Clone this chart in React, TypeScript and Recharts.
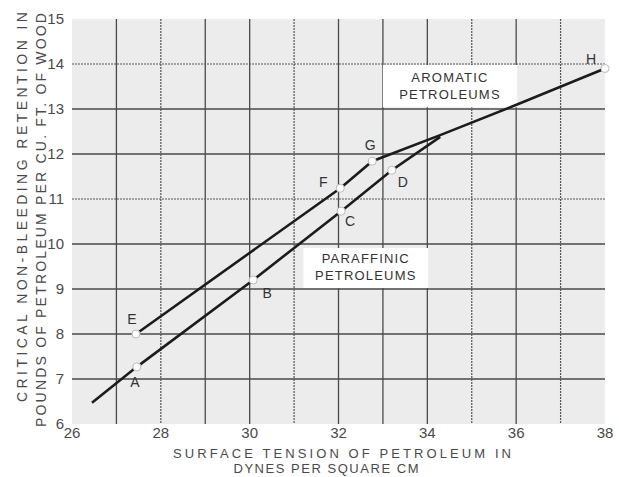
import React from "react";
import {
  LineChart,
  Line,
  XAxis,
  YAxis,
  CartesianGrid,
  ReferenceArea,
} from "recharts";

// surface tension (dynes/cm) vs critical retention (lb/cu ft)
const paraffinicX = [26.45, 27.46, 30.08, 32.06, 33.2, 34.29];
const paraffinicY = [6.47, 7.27, 9.2, 10.73, 11.64, 12.38];
const paraffinicPts = ["", "A", "B", "C", "D", ""];

const aromaticX = [27.44, 32.04, 32.76, 34.29, 36.02, 38.0];
const aromaticY = [8.0, 11.24, 11.84, 12.42, 13.1, 13.9];
const aromaticPts = ["E", "F", "G", "", "", "H"];

const xTicks = [26, 28, 30, 32, 34, 36, 38];
const yTicks = [6, 7, 8, 9, 10, 11, 12, 13, 14, 15];
// solid and dotted rulings of the graph paper
const xGridSolid = [27, 29, 30, 32, 33, 34, 36];
const xGridDotted = [28, 31, 35, 37];
const yGridSolid = [7, 8, 9, 10, 12, 13];
const yGridDotted = [11, 14];

const FONT = "'Liberation Sans', Arial, sans-serif";
const INK = "#1c1c1c";
const TEXT = "#4a4a4a";

// where each point letter sits, relative to its marker
const letterOffset: Record<string, [number, number]> = {
  A: [-2, 15],
  B: [14, 13],
  C: [9, 10],
  D: [11, 12],
  E: [-4, -15],
  F: [-17, -6],
  G: [-2, -16],
  H: [-14, -10],
};

const paraffinic = paraffinicX.map((x, i) => ({
  x,
  y: paraffinicY[i],
  pt: paraffinicPts[i],
}));
const aromatic = aromaticX.map((x, i) => ({
  x,
  y: aromaticY[i],
  pt: aromaticPts[i],
}));

const PointDot = (props: any) => {
  const { cx, cy, payload } = props;
  if (!payload.pt) return <g key={props.key} />;
  const [dx, dy] = letterOffset[payload.pt] || [0, 0];
  return (
    <g key={props.key}>
      <circle cx={cx} cy={cy} r={4} fill="#fff" stroke="#bbb" strokeWidth={1} />
      <text
        x={cx + dx}
        y={cy + dy}
        textAnchor="middle"
        dominantBaseline="central"
        fontFamily={FONT}
        fontSize={14}
        fill="#333"
      >
        {payload.pt}
      </text>
    </g>
  );
};

const BoxText = ({ lines, x, y }: { lines: string[]; x: number; y: number }) => (
  <text
    x={x}
    y={y}
    textAnchor="middle"
    fontFamily={FONT}
    fontSize={13}
    letterSpacing={1.2}
    fill="#333"
  >
    {lines.map((l, i) => (
      <tspan key={i} x={x} dy={i === 0 ? 0 : 17}>
        {l}
      </tspan>
    ))}
  </text>
);

export default function App() {
  return (
    <div style={{ position: "absolute", left: 0, top: 0, background: "#fff" }}>
      <LineChart
        width={619}
        height={477}
        margin={{ top: 19, right: 14, bottom: 0, left: 0 }}
      >
        <XAxis
          type="number"
          dataKey="x"
          domain={[26, 38]}
          ticks={xTicks}
          height={53}
          axisLine={false}
          tickLine={false}
          tickSize={1}
          tick={{ fontFamily: FONT, fontSize: 15, fill: TEXT }}
          allowDuplicatedCategory={false}
        />
        <YAxis
          type="number"
          dataKey="y"
          domain={[6, 15]}
          ticks={yTicks}
          width={72}
          axisLine={false}
          tickLine={false}
          tickSize={6}
          tick={{ fontFamily: FONT, fontSize: 15, fill: TEXT }}
        />
        <CartesianGrid
          fill="#ececec"
          fillOpacity={1}
          stroke="#4a4a4a"
          strokeWidth={1.3}
          verticalValues={xGridSolid}
          horizontalValues={yGridSolid}
        />
        <CartesianGrid
          stroke="#555"
          strokeWidth={1.2}
          strokeDasharray="2 1"
          verticalValues={xGridDotted}
          horizontalValues={yGridDotted}
        />
        <ReferenceArea
          x1={33.0}
          x2={36.02}
          y1={13.04}
          y2={13.98}
          fill="#fff"
          fillOpacity={1}
          stroke="none"
          label={(p: any) => (
            <BoxText
              lines={["AROMATIC", "PETROLEUMS"]}
              x={p.viewBox.x + p.viewBox.width / 2}
              y={p.viewBox.y + 17}
            />
          )}
        />
        <ReferenceArea
          x1={31.21}
          x2={34.02}
          y1={9.02}
          y2={9.91}
          fill="#fff"
          fillOpacity={1}
          stroke="none"
          label={(p: any) => (
            <BoxText
              lines={["PARAFFINIC", "PETROLEUMS"]}
              x={p.viewBox.x + p.viewBox.width / 2}
              y={p.viewBox.y + 15}
            />
          )}
        />
        <Line
          data={paraffinic}
          dataKey="y"
          type="linear"
          stroke={INK}
          strokeWidth={2.6}
          dot={PointDot}
          activeDot={false}
          isAnimationActive={false}
        />
        <Line
          data={aromatic}
          dataKey="y"
          type="linear"
          stroke={INK}
          strokeWidth={2.6}
          dot={PointDot}
          activeDot={false}
          isAnimationActive={false}
        />
        {/* axis titles */}
        <text
          x={22}
          y={207}
          transform="rotate(-90 22 207)"
          textAnchor="middle"
          dominantBaseline="central"
          fontFamily={FONT}
          fontSize={14}
          fill={TEXT}
          textLength={390}
          lengthAdjust="spacing"
        >
          CRITICAL NON-BLEEDING RETENTION IN
        </text>
        <text
          x={41}
          y={220}
          transform="rotate(-90 41 220)"
          textAnchor="middle"
          dominantBaseline="central"
          fontFamily={FONT}
          fontSize={14}
          fill={TEXT}
          textLength={414}
          lengthAdjust="spacing"
        >
          POUNDS OF PETROLEUM PER CU. FT. OF WOOD
        </text>
        <text
          x={342}
          y={458}
          textAnchor="middle"
          fontFamily={FONT}
          fontSize={13}
          fill={TEXT}
          textLength={338}
          lengthAdjust="spacing"
        >
          SURFACE TENSION OF PETROLEUM IN
        </text>
        <text
          x={326}
          y={473}
          textAnchor="middle"
          fontFamily={FONT}
          fontSize={13}
          fill={TEXT}
          textLength={185}
          lengthAdjust="spacing"
        >
          DYNES PER SQUARE CM
        </text>
      </LineChart>
    </div>
  );
}
